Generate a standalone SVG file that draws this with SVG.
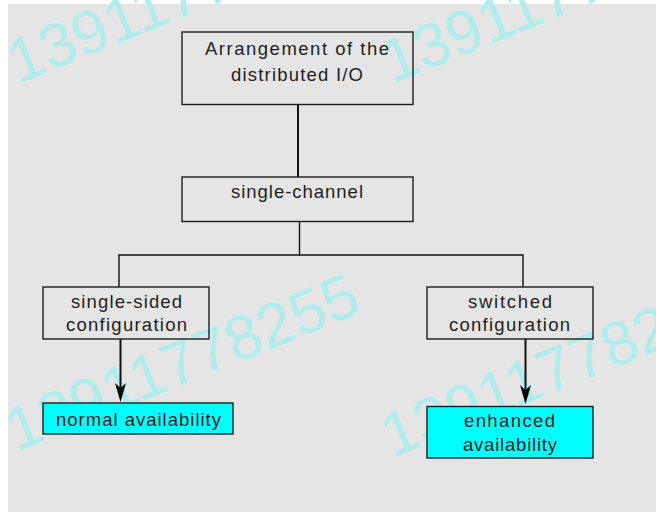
<svg xmlns="http://www.w3.org/2000/svg" width="656" height="512" viewBox="0 0 656 512">
<style>
.bg{fill:#e5e5e5}
.box{fill:none;stroke:#1e1e1e;stroke-width:1.4}
.hl{fill:#00ffff;stroke:#1e1e1e;stroke-width:1.4}
.lbl{font-family:"Liberation Sans",Arial,sans-serif;font-size:18.5px;fill:#1e1e1e}
.wm{font-family:"Liberation Sans",Arial,sans-serif;font-size:62px;fill:#b0ecec}
.ln{fill:none;stroke:#111;stroke-width:1.4}
.ln2{fill:none;stroke:#111;stroke-width:2}
</style>
<defs>
<marker id="arr" markerUnits="userSpaceOnUse" markerWidth="20" markerHeight="12" refX="5" refY="6" orient="auto" viewBox="0 0 20 12">
<path d="M0,0.5 L19,6 L0,11.5 L5,6 Z" fill="#000"/>
</marker>
</defs>
<rect class="bg" x="8" y="4" width="648" height="508"/>
<g id="watermark">
<text class="wm" transform="translate(18,84) rotate(-22)">13911778255</text>
<text class="wm" transform="translate(392,84) rotate(-22)">13911778255</text>
<text class="wm" transform="translate(16,452) rotate(-22)">13911778255</text>
<text class="wm" transform="translate(392,458) rotate(-22)">13911778255</text>
</g>
<g id="connectors">
<line class="ln2" x1="298" y1="104.5" x2="298" y2="177"/>
<polyline class="ln" points="299.5,222 299.5,255 119,255 119,287"/>
<polyline class="ln" points="299.5,255 523,255 523,287"/>
<line class="ln2" x1="120.5" y1="339" x2="120.5" y2="388" marker-end="url(#arr)"/>
<line class="ln2" x1="525.5" y1="339" x2="525.5" y2="390" marker-end="url(#arr)"/>
</g>
<g id="n-arrangement">
<rect class="box" x="182" y="32" width="231" height="72.5"/>
<text class="lbl" x="205" y="55" textLength="184">Arrangement of the</text>
<text class="lbl" x="231" y="81" textLength="132">distributed I/O</text>
</g>
<g id="n-single-channel">
<rect class="box" x="182" y="177" width="231" height="44.5"/>
<text class="lbl" x="231" y="198" textLength="132">single-channel</text>
</g>
<g id="n-single-sided">
<rect class="box" x="43" y="287" width="166" height="52"/>
<text class="lbl" x="71" y="308" textLength="111">single-sided</text>
<text class="lbl" x="66" y="331" textLength="121">configuration</text>
</g>
<g id="n-switched">
<rect class="box" x="427" y="287" width="166" height="52"/>
<text class="lbl" x="468" y="308" textLength="84">switched</text>
<text class="lbl" x="449" y="331" textLength="121">configuration</text>
</g>
<g id="n-normal">
<rect class="hl" x="43" y="403" width="190" height="31"/>
<text class="lbl" x="56" y="426" textLength="165">normal availability</text>
</g>
<g id="n-enhanced">
<rect class="hl" x="427" y="406.5" width="166" height="51.5"/>
<text class="lbl" x="464" y="427" textLength="91">enhanced</text>
<text class="lbl" x="463" y="451" textLength="94">availability</text>
</g>
</svg>
